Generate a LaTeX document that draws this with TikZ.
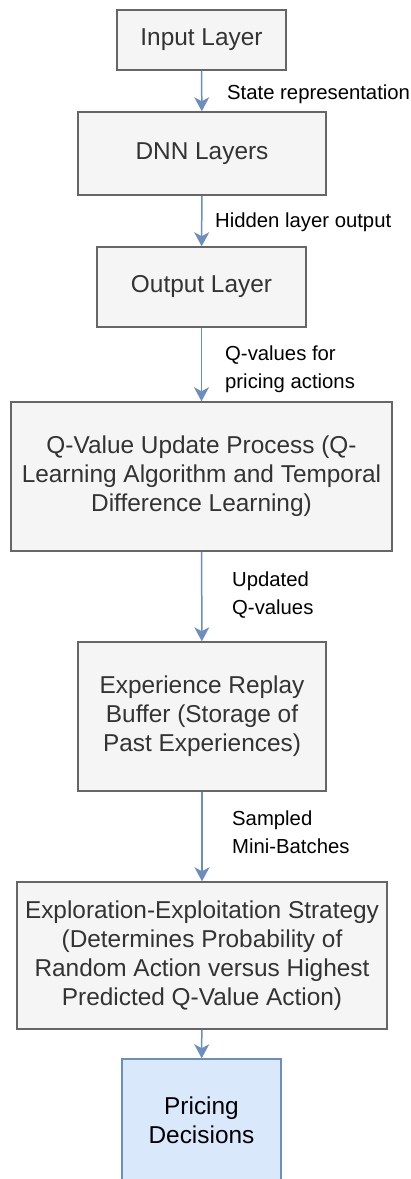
\documentclass[tikz,border=0pt]{standalone}
\usepackage{fontspec}
\setmainfont{Liberation Sans}
\usepackage{xcolor}
\usetikzlibrary{arrows.meta}

\definecolor{boxfill}{HTML}{F5F5F5}
\definecolor{boxline}{HTML}{666666}
\definecolor{boxtext}{HTML}{333333}
\definecolor{flowblue}{HTML}{6C8EBF}
\definecolor{decfill}{HTML}{DAE8FC}

\begin{document}
\begin{tikzpicture}[x=1pt,y=-1pt,
  box/.style={draw=boxline,fill=boxfill,line width=1.5pt,text=boxtext,align=center,
    inner sep=0pt,font=\fontsize{24.4}{29}\selectfont},
  decision/.style={box,draw=flowblue,fill=decfill,text=black},
  flow/.style={draw=flowblue,line width=1.5pt,-{Stealth[length=14pt,width=15pt,inset=4pt]}},
  lbl/.style={anchor=west,align=left,inner sep=0pt,text=black,font=\fontsize{20.3}{28.5}\selectfont}]
  \useasboundingbox (0,0) rectangle (411,1179);
  % boxes
  \node[box,minimum width=169pt,minimum height=60pt] (inp) at (201.5,40) {Input Layer};
  \node[box,minimum width=248pt,minimum height=83pt] (dnn) at (202,153.5) {DNN Layers};
  \node[box,minimum width=209pt,minimum height=80pt] (outl) at (201.5,287) {Output Layer};
  \node[box,minimum width=381pt,minimum height=149pt] (qupd) at (201.5,476.5)
    {Q-Value Update Process (Q-\\Learning Algorithm and Temporal\\Difference Learning)};
  \node[box,minimum width=248pt,minimum height=149pt] (replay) at (202,716.5)
    {Experience Replay\\Buffer (Storage of\\Past Experiences)};
  \node[box,minimum width=370pt,minimum height=147pt] (explo) at (202,955.5)
    {Exploration-Exploitation Strategy\\(Determines Probability of\\Random Action versus Highest\\Predicted Q-Value Action)};
  \node[decision,minimum width=159pt,minimum height=122pt] (price) at (201.5,1120)
    {Pricing\\Decisions};
  % arrows
  \draw[flow] (inp) -- (dnn);
  \draw[flow] (dnn) -- (outl);
  \draw[flow] (outl) -- (qupd);
  \draw[flow] (qupd) -- (replay);
  \draw[flow] (replay) -- (explo);
  \draw[flow] (explo) -- (price);
  % labels
  \node[lbl] (l1) at (227,94) {State representation};
  \node[lbl] (l2) at (215,222) {Hidden layer output};
  \node[lbl] (l3) at (225,369) {Q-values for\\pricing actions};
  \node[lbl] (l4) at (232,595) {Updated\\Q-values};
  \node[lbl] (l5) at (232,832) {Sampled\\Mini-Batches};
\end{tikzpicture}
\end{document}
